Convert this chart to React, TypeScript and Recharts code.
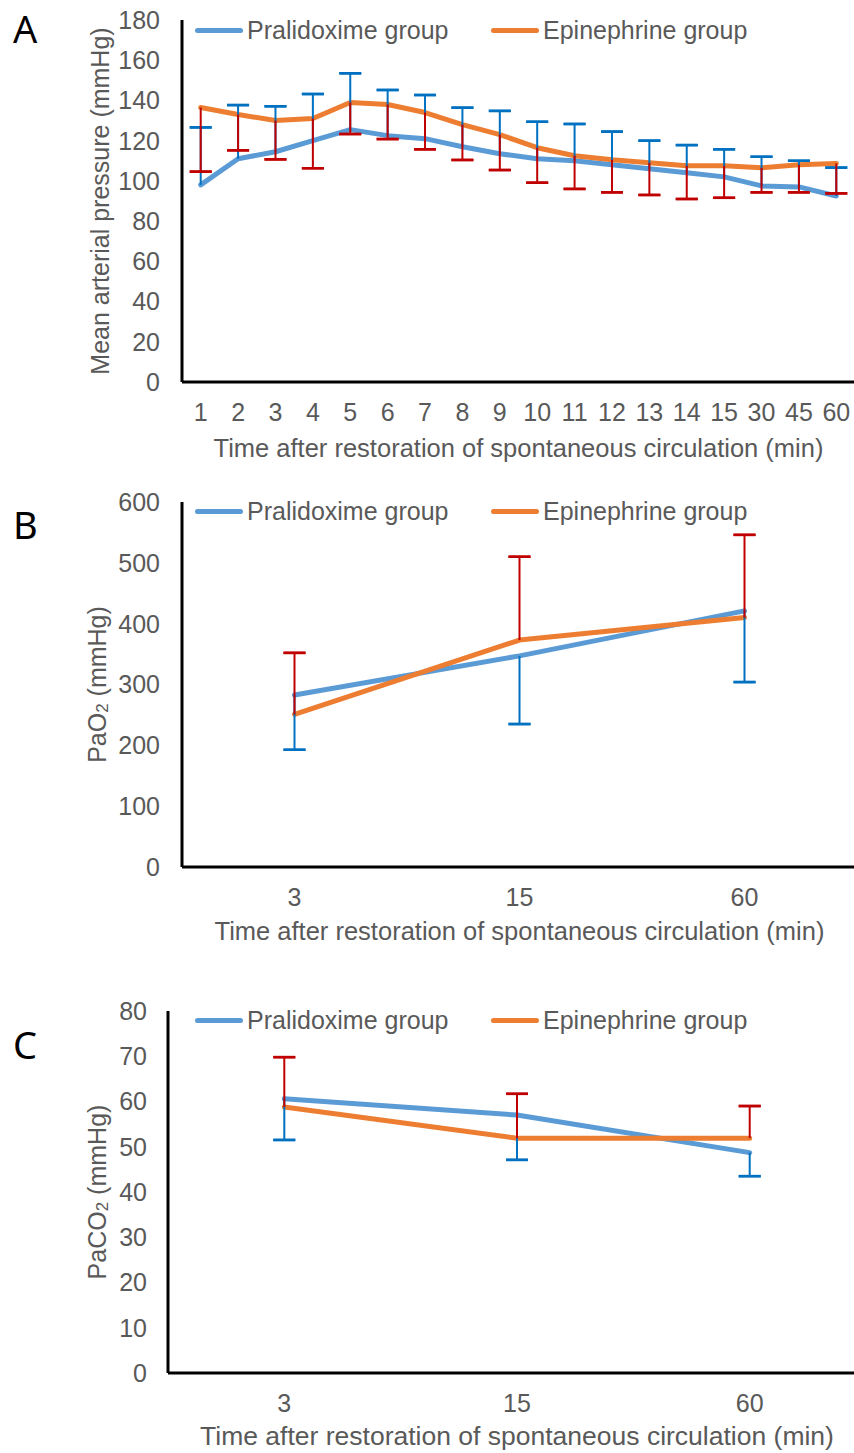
import { ErrorBar, Line, LineChart, XAxis, YAxis } from "recharts";

const font = '"Liberation Sans", Arial, sans-serif';
const textGray = "#595959";
const blue = "#5B9BD5";
const orange = "#ED7D31";
const blueErr = "#0070C0";
const redErr = "#C00000";

// A: mean arterial pressure (mmHg)
const timesA = ["1", "2", "3", "4", "5", "6", "7", "8", "9", "10", "11", "12", "13", "14", "15", "30", "45", "60"];
const pralidoximeMap = [98, 111, 114.5, 120, 125.5, 122.5, 121, 117, 113.5, 111, 110, 108, 106, 104, 102, 97.5, 97, 92.5];
const epinephrineMap = [136.5, 133, 130, 131, 139, 138, 134, 128, 123, 116.5, 112.5, 110.5, 109, 107.5, 107.5, 106.5, 108, 108.7];
const pralidoximeMapSd = [28.6, 26.7, 22.6, 23.2, 28, 22.7, 21.7, 19.4, 21.3, 18.4, 18.3, 16.5, 14, 13.8, 13.7, 14.5, 13, 14.1];
const epinephrineMapSd = [31.9, 17.8, 19.3, 24.7, 15.7, 17.2, 18.3, 17.6, 17.6, 17.4, 16.5, 16.2, 16, 16.5, 15.9, 12.2, 13.7, 14.9];
const ticksA = [0, 20, 40, 60, 80, 100, 120, 140, 160, 180];

// B and C share the sampling times
const timesBC = ["3", "15", "60"];

// B: PaO2 (mmHg)
const pralidoximePaO2 = [282.7, 347, 421];
const epinephrinePaO2 = [251, 373, 410];
const pralidoximePaO2Sd = [90, 112, 117];
const epinephrinePaO2Sd = [101, 137, 136];
const ticksB = [0, 100, 200, 300, 400, 500, 600];

// C: PaCO2 (mmHg)
const pralidoximePaCO2 = [60.6, 57, 48.7];
const epinephrinePaCO2 = [58.8, 51.9, 51.9];
const pralidoximePaCO2Sd = [9.1, 9.9, 5.2];
const epinephrinePaCO2Sd = [11, 9.8, 7.1];
const ticksC = [0, 10, 20, 30, 40, 50, 60, 70, 80];

const xTitle = "Time after restoration of spontaneous circulation (min)";

// one-sided error bars: stem from the mean, cap only at the far end
function buildRows(times, p, e, pSd, eSd, pralUp) {
  return times.map((t, i) => ({
    t,
    p: p[i],
    e: e[i],
    pEnd: pralUp ? p[i] + pSd[i] : p[i] - pSd[i],
    eEnd: pralUp ? e[i] - eSd[i] : e[i] + eSd[i],
    pErr: pralUp ? [0, pSd[i]] : [pSd[i], 0],
    eErr: pralUp ? [eSd[i], 0] : [0, eSd[i]],
    zero: [0, 0],
  }));
}

const rowsA = buildRows(timesA, pralidoximeMap, epinephrineMap, pralidoximeMapSd, epinephrineMapSd, true);
const rowsB = buildRows(timesBC, pralidoximePaO2, epinephrinePaO2, pralidoximePaO2Sd, epinephrinePaO2Sd, false);
const rowsC = buildRows(timesBC, pralidoximePaCO2, epinephrinePaCO2, pralidoximePaCO2Sd, epinephrinePaCO2Sd, false);

function Legend({ y }) {
  const item = (left, color, label) => (
    <div
      style={{
        position: "absolute",
        left,
        top: y - 15,
        height: 30,
        display: "flex",
        alignItems: "center",
        whiteSpace: "nowrap",
      }}
    >
      <span style={{ width: 48, height: 5, borderRadius: 3, background: color, marginRight: 4 }} />
      <span style={{ fontFamily: font, fontSize: 25, color: textGray }}>{label}</span>
    </div>
  );
  return (
    <>
      {item(195, blue, "Pralidoxime group")}
      {item(491, orange, "Epinephrine group")}
    </>
  );
}

const hidden = {
  stroke: "none",
  dot: false,
  activeDot: false,
  legendType: "none",
  isAnimationActive: false,
};

function Panel({ top, height, rows, margin, pad, ticks, yLabel, yLabelDx, tickGap, legendY, xLabelDy, xLabelSize }) {
  const tickStyle = { fill: textGray, fontSize: 25, fontFamily: font };
  const axisLine = { stroke: "#000", strokeWidth: 3 };
  const xLabel = (props) => {
    const vb = props.viewBox || {};
    return (
      <text
        x={vb.x + vb.width / 2}
        y={vb.y + xLabelDy}
        textAnchor="middle"
        fill={textGray}
        fontSize={xLabelSize}
        fontFamily={font}
      >
        {xTitle}
      </text>
    );
  };
  const yLab = (props) => {
    const vb = props.viewBox || {};
    const x = vb.x + yLabelDx;
    const y = vb.y + vb.height / 2;
    return (
      <text
        x={x}
        y={y}
        transform={`rotate(-90, ${x}, ${y})`}
        textAnchor="middle"
        dominantBaseline="central"
        fill={textGray}
        fontSize={25}
        fontFamily={font}
      >
        {yLabel}
      </text>
    );
  };
  return (
    <div style={{ position: "absolute", left: 0, top, width: 854, height, overflow: "hidden" }}>
      <LineChart width={870} height={height} data={rows} margin={margin}>
        <XAxis
          dataKey="t"
          type="category"
          interval={0}
          padding={{ left: pad, right: pad }}
          axisLine={axisLine}
          tickLine={false}
          tickSize={0}
          tickMargin={21}
          height={80}
          tick={tickStyle}
          label={xLabel}
        />
        <YAxis
          type="number"
          domain={[ticks[0], ticks[ticks.length - 1]]}
          ticks={ticks}
          interval={0}
          width={100}
          axisLine={axisLine}
          tickLine={false}
          tickSize={0}
          tickMargin={tickGap}
          tick={tickStyle}
          label={yLab}
        />
        <Line
          type="linear"
          dataKey="p"
          stroke={blue}
          strokeWidth={5}
          strokeLinecap="round"
          strokeLinejoin="round"
          dot={false}
          activeDot={false}
          isAnimationActive={false}
        />
        <Line
          type="linear"
          dataKey="e"
          stroke={orange}
          strokeWidth={5}
          strokeLinecap="round"
          strokeLinejoin="round"
          dot={false}
          activeDot={false}
          isAnimationActive={false}
        />
        <Line dataKey="p" {...hidden}>
          <ErrorBar dataKey="pErr" width={0} strokeWidth={2} stroke={blueErr} direction="y" />
        </Line>
        <Line dataKey="pEnd" {...hidden}>
          <ErrorBar dataKey="zero" width={11} strokeWidth={2.5} stroke={blueErr} direction="y" />
        </Line>
        <Line dataKey="e" {...hidden}>
          <ErrorBar dataKey="eErr" width={0} strokeWidth={2} stroke={redErr} direction="y" />
        </Line>
        <Line dataKey="eEnd" {...hidden}>
          <ErrorBar dataKey="zero" width={11} strokeWidth={2.5} stroke={redErr} direction="y" />
        </Line>
      </LineChart>
      <Legend y={legendY} />
    </div>
  );
}

function Letter({ children, top }) {
  return (
    <div
      style={{
        position: "absolute",
        left: 13,
        top,
        fontFamily: '"Noto Sans", "Open Sans", sans-serif',
        fontSize: 38,
        lineHeight: "38px",
        color: "#000",
      }}
    >
      {children}
    </div>
  );
}

export default function App() {
  return (
    <div style={{ position: "absolute", left: 0, top: 0, width: 854, height: 1453, background: "#fff", overflow: "hidden" }}>
      <Panel
        top={0}
        height={480}
        rows={rowsA}
        margin={{ top: 20, right: 15, bottom: 18, left: 82 }}
        pad={18.7}
        ticks={ticksA}
        yLabel="Mean arterial pressure (mmHg)"
        yLabelDx={18}
        tickGap={22}
        legendY={30}
        xLabelDy={75}
        xLabelSize={25.5}
      />
      <Panel
        top={480}
        height={490}
        rows={rowsB}
        margin={{ top: 22, right: 13, bottom: 23, left: 82 }}
        pad={112.5}
        ticks={ticksB}
        yLabel={
          <>
            <tspan>PaO</tspan>
            <tspan dy={5} fontSize={17}>2</tspan>
            <tspan dy={-5}> (mmHg)</tspan>
          </>
        }
        yLabelDx={15}
        tickGap={22}
        legendY={31}
        xLabelDy={73}
        xLabelSize={25.5}
      />
      <Panel
        top={980}
        height={473}
        rows={rowsC}
        margin={{ top: 31, right: 4, bottom: 0, left: 68 }}
        pad={116.3}
        ticks={ticksC}
        yLabel={
          <>
            <tspan>PaCO</tspan>
            <tspan dy={5} fontSize={17}>2</tspan>
            <tspan dy={-5}> (mmHg)</tspan>
          </>
        }
        yLabelDx={29}
        tickGap={21}
        legendY={40}
        xLabelDy={72}
        xLabelSize={26.5}
      />
      <Letter top={9}>A</Letter>
      <Letter top={505}>B</Letter>
      <Letter top={1025}>C</Letter>
    </div>
  );
}
